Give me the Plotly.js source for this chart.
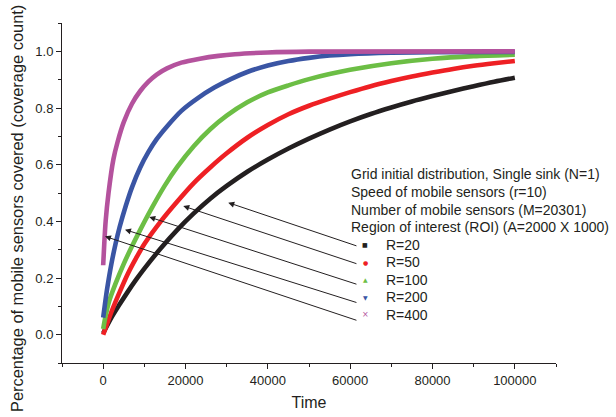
<!DOCTYPE html>
<html>
<head>
<meta charset="utf-8">
<script src="https://cdn.plot.ly/plotly-3.0.1.min.js"></script>
<style>html,body{margin:0;padding:0;background:#fff;}#chart{width:616px;height:417px;}</style>
</head>
<body>
<div id="chart"></div>
<script>
// ---- data ----
const seriesNames = ["R=20", "R=50", "R=100", "R=200", "R=400"];

const tR20 = [0, 2000, 4000, 6000, 8000, 10000, 14000, 18000, 22000, 26000, 30000, 35000, 40000, 45000, 50000, 55000, 60000, 65000, 70000, 75000, 80000, 85000, 90000, 95000, 100000];
const yR20 = [0.005, 0.06, 0.107, 0.152, 0.194, 0.233, 0.305, 0.37, 0.428, 0.48, 0.525, 0.575, 0.618, 0.657, 0.692, 0.724, 0.753, 0.779, 0.802, 0.823, 0.842, 0.86, 0.877, 0.893, 0.907];

const tR50 = [0, 1000, 2000, 4000, 6000, 8000, 10000, 14000, 18000, 22000, 26000, 30000, 35000, 40000, 45000, 50000, 55000, 60000, 65000, 70000, 75000, 80000, 85000, 90000, 95000, 100000];
const yR50 = [0.0, 0.04, 0.08, 0.15, 0.215, 0.27, 0.32, 0.4, 0.47, 0.535, 0.59, 0.64, 0.695, 0.74, 0.778, 0.808, 0.833, 0.856, 0.877, 0.895, 0.911, 0.925, 0.938, 0.949, 0.958, 0.966];

const tR100 = [0, 500, 1500, 3000, 5000, 7000, 9000, 12000, 15000, 18000, 22000, 26000, 30000, 35000, 40000, 45000, 50000, 55000, 60000, 70000, 80000, 90000, 100000];
const yR100 = [0.02, 0.06, 0.12, 0.18, 0.25, 0.312, 0.37, 0.452, 0.527, 0.592, 0.665, 0.725, 0.773, 0.82, 0.855, 0.88, 0.902, 0.92, 0.935, 0.958, 0.974, 0.983, 0.988];

const tR200 = [0, 500, 1000, 2000, 3000, 4000, 5500, 7000, 9000, 11000, 13000, 15500, 19000, 23000, 27000, 31000, 35000, 40000, 45000, 50000, 55000, 60000, 70000, 80000, 100000];
const yR200 = [0.06, 0.115, 0.165, 0.25, 0.32, 0.38, 0.455, 0.52, 0.59, 0.645, 0.69, 0.735, 0.79, 0.835, 0.872, 0.902, 0.927, 0.95, 0.966, 0.977, 0.985, 0.99, 0.995, 0.997, 0.998];

const tR400 = [0, 300, 600, 1300, 2500, 3500, 5000, 7000, 9000, 11000, 13000, 15500, 19000, 23500, 28000, 32000, 40000, 50000, 100000];
const yR400 = [0.245, 0.33, 0.4, 0.5, 0.62, 0.68, 0.75, 0.815, 0.86, 0.893, 0.918, 0.94, 0.96, 0.974, 0.984, 0.99, 0.996, 0.999, 1.0];

const headerLines = [
  "Grid initial distribution, Single sink (N=1)",
  "Speed of mobile sensors (r=10)",
  "Number of mobile sensors (M=20301)",
  "Region of interest (ROI) (A=2000 X 1000)"
];
const xTickVals = [0, 20000, 40000, 60000, 80000, 100000];
const yTickVals = [0.0, 0.2, 0.4, 0.6, 0.8, 1.0];
const xTitle = "Time";
const yTitle = "Percentage of mobile sensors covered (coverage count)";

// ---- styles ----
const colors = ["#231f20", "#ee2024", "#6cbe45", "#3a55a4", "#b4529d"];
const symbols = ["\u25A0", "\u25CF", "\u25B2", "\u25BC", "\u00D7"];
const FONT = "Liberation Sans, Arial, sans-serif";
const TXT = "#231f20";

const tList = [tR20, tR50, tR100, tR200, tR400];
const yList = [yR20, yR50, yR100, yR200, yR400];

const traces = seriesNames.map((n, i) => ({
  type: "scatter", mode: "lines", name: n,
  x: tList[i], y: yList[i],
  line: {color: colors[i], width: 4.6, shape: "spline", smoothing: 0.8},
  showlegend: false, hoverinfo: "skip"
}));

// plot area in pixels: x 62..556, y 23..363
const L = 62, R = 556, T = 23, B = 363;
const px = v => (v - L) / (R - L);
const py = v => (B - v) / (B - T);

const annotations = [];
annotations.push({
  xref: "paper", yref: "paper", x: px(17), y: py(209),
  xanchor: "center", yanchor: "middle", showarrow: false, textangle: -90,
  text: yTitle, font: {family: FONT, size: 16.4, color: TXT}
});
const headerY = [174, 192, 209.5, 227];
headerLines.forEach((s, i) => annotations.push({
  xref: "paper", yref: "paper", x: px(349), y: py(headerY[i]),
  xanchor: "left", yanchor: "middle", showarrow: false, text: s,
  font: {family: FONT, size: 14, color: TXT}
}));
const itemY = [244.5, 262, 279.5, 297, 314.5];
seriesNames.forEach((n, i) => {
  annotations.push({
    xref: "paper", yref: "paper", x: px(365), y: py(itemY[i]),
    xanchor: "center", yanchor: "middle", showarrow: false, text: symbols[i],
    font: {family: "DejaVu Sans", size: i === 4 ? 8 : 6, color: colors[i]}
  });
  annotations.push({
    xref: "paper", yref: "paper", x: px(384), y: py(itemY[i]),
    xanchor: "left", yanchor: "middle", showarrow: false, text: n,
    font: {family: FONT, size: 14, color: TXT}
  });
});

// arrows: head points on curves, tails next to legend items (pixel -> data)
const xd = p => (p - 103.2) / 41.17 * 10000;
const yd = p => (334.3 - p) / 283.3;
const arrowHeads = [[228.3, 202.3], [183.3, 205.7], [149.3, 216.7], [125, 229.3], [105, 236]];
const arrowTails = [[358, 246], [358, 263.8], [358, 284.3], [358, 302.6], [358, 320.4]];
arrowHeads.forEach((h, i) => annotations.push({
  xref: "x", yref: "y", axref: "x", ayref: "y",
  x: xd(h[0]), y: yd(h[1]), ax: xd(arrowTails[i][0]), ay: yd(arrowTails[i][1]),
  showarrow: true, arrowhead: 2, arrowsize: 1.2, arrowwidth: 1, arrowcolor: TXT, text: ""
}));

const layout = {
  width: 616, height: 417,
  margin: {l: L, r: 616 - R, t: T, b: 417 - B},
  paper_bgcolor: "#fff", plot_bgcolor: "#fff",
  font: {family: FONT, color: TXT},
  showlegend: false,
  xaxis: {
    range: [-10000, 110000], tickvals: xTickVals, ticktext: xTickVals.map(String),
    ticks: "outside", ticklen: 5, tickwidth: 1, tickcolor: TXT,
    minor: {dtick: 10000, tick0: 0, ticks: "outside", ticklen: 3, tickcolor: TXT, showgrid: false},
    showline: true, linecolor: TXT, linewidth: 1, showgrid: false, zeroline: false,
    tickfont: {family: FONT, size: 13, color: TXT},
    title: {text: xTitle, font: {family: FONT, size: 16, color: TXT}, standoff: 10},
    automargin: false
  },
  yaxis: {
    range: [-0.1, 1.1], tickvals: yTickVals, ticktext: yTickVals.map(v => v.toFixed(1)),
    ticks: "outside", ticklen: 5, tickwidth: 1, tickcolor: TXT,
    minor: {dtick: 0.1, tick0: 0, ticks: "outside", ticklen: 3, tickcolor: TXT, showgrid: false},
    showline: true, linecolor: TXT, linewidth: 1, showgrid: false, zeroline: false,
    tickfont: {family: FONT, size: 13, color: TXT},
    automargin: false
  },
  annotations: annotations
};

Plotly.newPlot("chart", traces, layout, {staticPlot: true, displayModeBar: false});
</script>
</body>
</html>
